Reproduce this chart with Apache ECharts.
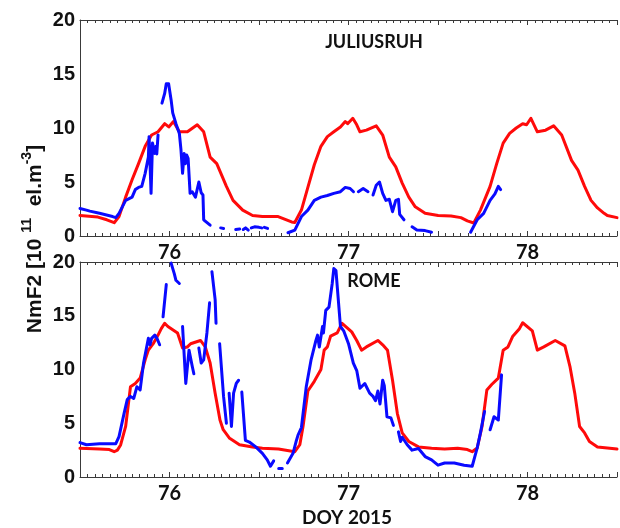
<!DOCTYPE html>
<html>
<head>
<meta charset="utf-8">
<script src="https://cdn.jsdelivr.net/npm/echarts@6/dist/echarts.min.js"></script>
<style>
  html, body { margin: 0; padding: 0; background: #ffffff; }
  #chart { width: 620px; height: 528px; }
</style>
</head>
<body>
<div id="chart"></div>
<script>
// Day-of-year tick labels and NmF2 tick labels
const dayLabels = [76, 77, 78];
const nmf2Ticks = [0, 5, 10, 15, 20];

// JULIUSRUH - model (red)
const julModelDoy = [75.500, 75.600, 75.650, 75.691, 75.718, 75.755, 75.791, 75.827, 75.864, 75.900, 75.936, 75.973, 75.996, 76.022, 76.055, 76.100, 76.155, 76.191, 76.227, 76.264, 76.318, 76.355, 76.409, 76.464, 76.519, 76.607, 76.682, 76.700, 76.737, 76.773, 76.809, 76.846, 76.882, 76.918, 76.955, 76.982, 76.995, 77.024, 77.046, 77.064, 77.100, 77.155, 77.191, 77.228, 77.264, 77.300, 77.337, 77.373, 77.428, 77.501, 77.573, 77.628, 77.664, 77.700, 77.737, 77.791, 77.828, 77.864, 77.900, 77.937, 77.973, 77.995, 78.019, 78.055, 78.101, 78.146, 78.191, 78.246, 78.282, 78.319, 78.355, 78.391, 78.428, 78.446, 78.500];
const julModelVal = [1.9, 1.75, 1.5, 1.23, 1.8, 3.6, 5.2, 6.7, 8.3, 9.35, 9.65, 10.4, 10.1, 10.6, 9.65, 9.65, 10.3, 9.65, 7.3, 6.7, 4.6, 3.3, 2.4, 1.9, 1.8, 1.8, 1.3, 1.25, 2.4, 4.5, 6.6, 8.3, 9.2, 9.65, 10.1, 10.6, 10.4, 10.9, 10.3, 9.65, 9.8, 10.2, 9.35, 7.3, 6.4, 4.9, 3.6, 2.7, 2.1, 1.9, 1.85, 1.7, 1.4, 1.2, 2.4, 4.6, 6.7, 8.6, 9.5, 10.0, 10.4, 10.3, 10.9, 9.65, 9.8, 10.2, 9.35, 7.0, 6.1, 4.6, 3.3, 2.6, 2.1, 1.9, 1.7];

// JULIUSRUH - observed (blue); null marks a data gap
const julObsDoy = [75.500, 75.536, 75.555, 75.609, 75.682, 75.700, 75.718, 75.755, 75.791, 75.809, 75.827, 75.845, 75.864, 75.882, 75.886, 75.897, 75.905, 75.918, 75.925, 75.929, 75.936, null,
  75.958, 75.973, 75.982, 75.995, 76.009, 76.018, 76.036, 76.055, 76.064, 76.073, 76.082, 76.089, 76.096, 76.104, 76.115, 76.127, 76.145, 76.164, 76.177, 76.187, 76.191, 76.227, null,
  76.286, 76.302, null,
  76.370, 76.392, null,
  76.412, 76.425, 76.440, null,
  76.457, 76.475, 76.500, 76.515, null,
  76.530, 76.548, null,
  76.662, 76.700, 76.737, 76.773, 76.809, 76.846, 76.882, 76.918, 76.955, 76.982, 77.009, 77.028, null,
  77.055, 77.082, 77.109, null,
  77.137, 77.155, 77.173, 77.191, 77.209, 77.228, 77.246, 77.264, 77.279, 77.286, 77.310, null,
  77.355, 77.382, 77.428, 77.464, null,
  77.682, 77.719, 77.755, 77.791, 77.818, 77.837, 77.850];
const julObsVal = [2.55, 2.4, 2.3, 2.1, 1.8, 1.7, 2.1, 3.3, 3.6, 4.3, 4.5, 4.6, 5.8, 7.3, 9.2, 3.95, 8.6, 7.65, 8.3, 7.6, 9.35, null,
  12.3, 13.2, 14.1, 14.1, 12.6, 11.4, 10.4, 9.5, 8.0, 5.8, 7.65, 6.7, 7.5, 7.2, 3.95, 4.1, 3.6, 5.0, 4.0, 3.8, 1.5, 1.0, null,
  0.75, 0.7, null,
  0.6, 0.65, null,
  0.6, 0.75, 0.55, null,
  0.75, 0.85, 0.8, 0.75, null,
  0.8, 0.7, null,
  0.3, 0.55, 1.8, 2.4, 3.3, 3.6, 3.75, 3.95, 4.1, 4.5, 4.4, 4.1, null,
  4.1, 4.4, 4.1, null,
  3.8, 4.7, 5.0, 3.95, 3.3, 3.4, 2.25, 3.3, 3.4, 2.0, 1.5, null,
  0.85, 0.55, 0.5, 0.35, null,
  0.35, 1.5, 2.1, 3.3, 3.9, 4.6, 4.3];

// ROME - model (red)
const romeModelDoy = [75.500, 75.609, 75.664, 75.691, 75.709, 75.727, 75.755, 75.782, 75.809, 75.836, 75.864, 75.882, 75.909, 75.936, 75.954, 75.973, 75.991, 76.045, 76.073, 76.100, 76.118, 76.173, 76.200, 76.227, 76.255, 76.282, 76.300, 76.336, 76.391, 76.464, 76.519, 76.609, 76.700, 76.728, 76.746, 76.773, 76.809, 76.846, 76.864, 76.882, 76.900, 76.937, 76.964, 76.991, 77.018, 77.046, 77.073, 77.100, 77.164, 77.191, 77.218, 77.246, 77.273, 77.300, 77.337, 77.391, 77.464, 77.537, 77.610, 77.664, 77.691, 77.719, 77.746, 77.773, 77.800, 77.837, 77.864, 77.891, 77.918, 77.955, 77.973, 78.027, 78.055, 78.091, 78.155, 78.209, 78.237, 78.264, 78.291, 78.319, 78.346, 78.391, 78.446, 78.500];
const romeModelVal = [2.67, 2.6, 2.55, 2.35, 2.5, 2.98, 4.7, 8.4, 8.7, 9.2, 10.9, 11.8, 12.4, 13.2, 13.8, 14.3, 14.0, 13.4, 12.0, 12.1, 12.4, 12.7, 12.1, 10.6, 7.8, 5.3, 4.4, 3.6, 3.0, 2.8, 2.67, 2.6, 2.35, 3.0, 4.7, 8.0, 8.9, 10.0, 11.8, 12.1, 13.1, 13.4, 14.3, 13.9, 13.5, 12.7, 11.8, 12.1, 12.7, 12.3, 11.8, 9.0, 5.9, 4.1, 3.3, 2.8, 2.67, 2.6, 2.67, 2.55, 2.35, 2.7, 4.7, 8.1, 8.6, 9.2, 11.8, 12.1, 13.1, 13.8, 14.35, 13.6, 11.8, 12.1, 12.7, 12.2, 10.3, 7.8, 4.7, 4.1, 3.3, 2.8, 2.7, 2.6];

// ROME - observed (blue); null marks a data gap
const romeObsDoy = [75.500, 75.536, 75.609, 75.700, 75.718, 75.746, 75.764, 75.782, 75.800, 75.818, 75.836, 75.855, 75.882, 75.891, 75.900, 75.918, 75.930, 75.945, null,
  75.964, 75.982, null,
  76.009, 76.027, 76.036, 76.055, null,
  76.073, 76.091, 76.109, 76.127, 76.136, null,
  76.164, 76.177, 76.191, 76.209, 76.224, null,
  76.237, 76.255, 76.260, null,
  76.280, 76.302, 76.318, null,
  76.333, 76.346, 76.358, 76.373, 76.386, null,
  76.404, 76.424, 76.446, 76.482, 76.519, 76.546, 76.564, 76.582, null,
  76.610, 76.630, null,
  76.659, 76.690, 76.709, 76.718, 76.737, 76.764, 76.791, 76.818, 76.827, 76.837, 76.855, 76.860, 76.873, 76.891, 76.909, 76.918, 76.930, 76.955, 76.973, 77.000, 77.027, 77.046, 77.064, 77.091, 77.118, 77.137, 77.151, 77.164, 77.176, 77.191, 77.200, 77.215, 77.237, 77.251, null,
  77.279, 77.291, 77.300, 77.328, 77.355, 77.391, 77.428, 77.464, 77.500, 77.537, 77.591, 77.646, 77.691, 77.719, 77.737, 77.760, null,
  77.791, 77.813, 77.822, 77.837, 77.855];
const romeObsVal = [3.2, 3.0, 3.1, 3.1, 3.75, 5.9, 7.2, 7.5, 7.3, 8.4, 8.1, 10.6, 12.9, 12.3, 12.9, 13.2, 12.9, 12.3, null,
  14.9, 17.9, null,
  19.9, 18.9, 18.3, 18.0, null,
  14.0, 8.7, 11.8, 10.3, 9.6, null,
  12.0, 10.6, 10.9, 13.4, 16.2, null,
  19.1, 16.5, 14.3, null,
  12.4, 7.5, 5.0, null,
  7.8, 4.7, 7.8, 8.7, 9.0, null,
  7.9, 3.4, 3.25, 2.8, 2.2, 1.6, 1.0, 1.5, null,
  0.8, 0.8, null,
  1.3, 2.2, 3.4, 3.9, 4.6, 8.4, 10.9, 12.7, 13.2, 12.1, 14.0, 13.4, 15.5, 15.8, 18.0, 19.4, 19.2, 14.0, 13.6, 12.4, 10.6, 9.9, 8.25, 8.7, 7.8, 7.5, 7.1, 8.0, 6.8, 9.0, 8.5, 5.6, 5.5, 4.8, null,
  4.2, 3.3, 3.7, 3.0, 2.5, 2.65, 1.9, 1.6, 1.1, 1.3, 1.3, 1.1, 1.0, 2.7, 4.1, 6.1, null,
  4.4, 5.6, 5.7, 5.3, 9.5];

// Pair up day-of-year and value; a null entry becomes a gap in the line
function pairs(doy, val) {
  let last = doy[0];
  return doy.map((d, i) => {
    if (d === null || val[i] === null) return [last, '-'];
    last = d;
    return [d, val[i]];
  });
}

const AXIS_COLOR = '#3a3a3a';
const TEXT_COLOR = '#111111';
const tickFont = { fontFamily: 'Lato', fontWeight: 'bold', fontSize: 20, color: TEXT_COLOR };

const panels = [
  { top: 20, height: 216 },
  { top: 262, height: 215 }
];

const grids = panels.map(p => ({ left: 80, top: p.top, width: 550, height: p.height, containLabel: false }));

const isDayLabel = v => dayLabels.some(d => Math.abs(d - v) < 1e-6);

const xAxes = [];
panels.forEach((p, i) => {
  ['bottom', 'top'].forEach(pos => {
    xAxes.push({
      type: 'value', gridIndex: i, position: pos,
      min: 75.5, max: 78.5, interval: 0.5,
      axisLine: { show: true, onZero: false, lineStyle: { color: AXIS_COLOR, width: 1 } },
      axisTick: { show: true, inside: true, length: 5, lineStyle: { color: AXIS_COLOR, width: 1 } },
      minorTick: { show: true, splitNumber: 12, length: 3, lineStyle: { color: AXIS_COLOR, width: 1 } },
      splitLine: { show: false },
      axisLabel: pos === 'bottom' ? Object.assign({
        show: true, margin: 7,
        formatter: v => isDayLabel(v) ? String(Math.round(v)) : ''
      }, tickFont) : { show: false }
    });
  });
});

const yAxes = panels.map((p, i) => ({
  type: 'value', gridIndex: i,
  min: nmf2Ticks[0], max: nmf2Ticks[nmf2Ticks.length - 1], interval: 5,
  axisLine: { show: true, lineStyle: { color: AXIS_COLOR, width: 1 } },
  axisTick: { show: false },
  splitLine: { show: false },
  axisLabel: { margin: 5, fontFamily: 'Liberation Sans', fontWeight: 'bold', fontSize: 20, color: TEXT_COLOR }
}));

function lineSeries(gridIdx, data, color) {
  return {
    type: 'line', xAxisIndex: gridIdx * 2, yAxisIndex: gridIdx,
    data: data, showSymbol: false, symbol: 'none', connectNulls: false,
    lineStyle: { color: color, width: 3, join: 'round', cap: 'round' },
    clip: true, silent: true
  };
}

const RED = '#ff0a0a';
const BLUE = '#0a0aff';

const chart = echarts.init(document.getElementById('chart'), null, { renderer: 'canvas' });
chart.setOption({
  animation: false,
  backgroundColor: '#ffffff',
  grid: grids,
  xAxis: xAxes,
  yAxis: yAxes,
  series: [
    lineSeries(0, pairs(julModelDoy, julModelVal), RED),
    lineSeries(0, pairs(julObsDoy, julObsVal), BLUE),
    lineSeries(1, pairs(romeModelDoy, romeModelVal), RED),
    lineSeries(1, pairs(romeObsDoy, romeObsVal), BLUE)
  ],
  graphic: [
    {
      type: 'text', x: 374, y: 42,
      style: { text: 'JULIUSRUH', align: 'center', verticalAlign: 'middle',
        fontFamily: 'Lato', fontWeight: 'bold', fontSize: 18, fill: TEXT_COLOR }
    },
    {
      type: 'text', x: 374, y: 281,
      style: { text: 'ROME', align: 'center', verticalAlign: 'middle',
        fontFamily: 'Lato', fontWeight: 'bold', fontSize: 18, fill: TEXT_COLOR }
    },
    {
      type: 'text', x: 347, y: 518,
      style: { text: 'DOY 2015', align: 'center', verticalAlign: 'middle',
        fontFamily: 'Lato', fontWeight: 'bold', fontSize: 19, fill: TEXT_COLOR }
    },
    {
      type: 'text', x: 33, y: 239, rotation: Math.PI / 2,
      style: {
        text: '{m|NmF2 [10 }{s|11}{m|  el.m}{s|-3}{m|]}',
        align: 'center', verticalAlign: 'middle',
        rich: {
          m: { fontFamily: 'Liberation Sans', fontWeight: 'bold', fontSize: 21, lineHeight: 26, fill: TEXT_COLOR, verticalAlign: 'bottom' },
          s: { fontFamily: 'Liberation Sans', fontWeight: 'bold', fontSize: 14, lineHeight: 14, fill: TEXT_COLOR, verticalAlign: 'top' }
        }
      }
    }
  ]
});
</script>
</body>
</html>
